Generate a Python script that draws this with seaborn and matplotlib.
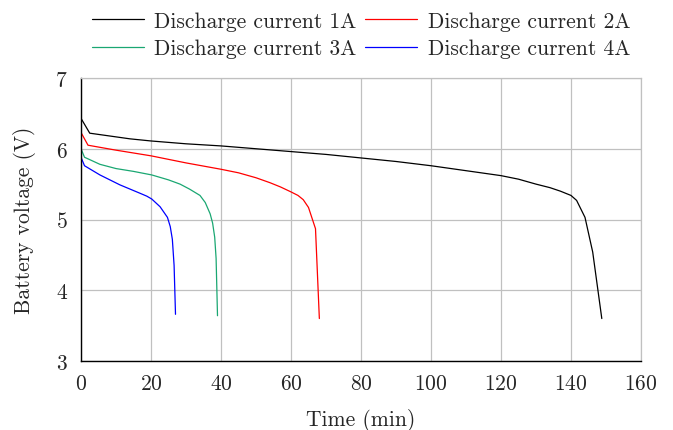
import matplotlib
matplotlib.use("Agg")
import matplotlib.pyplot as plt
import seaborn as sns
import pandas as pd

t1 = [0, 2.5, 14, 20, 30, 40, 50, 60, 70, 80, 90, 100, 110, 120, 125, 130, 134, 137, 140, 141.6, 144, 146.2, 148.8]
v1 = [6.43, 6.22, 6.14, 6.11, 6.07, 6.04, 6.00, 5.96, 5.92, 5.87, 5.82, 5.76, 5.69, 5.62, 5.57, 5.50, 5.45, 5.40, 5.34, 5.27, 5.03, 4.54, 3.60]
t2 = [0, 2, 10, 20, 30, 40, 45, 50, 54, 57, 60, 62, 63.5, 65, 67, 68.1]
v2 = [6.23, 6.05, 5.98, 5.90, 5.80, 5.71, 5.66, 5.59, 5.52, 5.46, 5.39, 5.34, 5.28, 5.17, 4.87, 3.60]
t3 = [0, 1, 5.4, 10, 15, 20.2, 25, 28.3, 31, 34, 35.5, 36.9, 37.6, 38.2, 38.6, 39.0]
v3 = [6.0, 5.88, 5.78, 5.72, 5.68, 5.63, 5.56, 5.50, 5.43, 5.34, 5.24, 5.08, 4.95, 4.75, 4.45, 3.64]
t4 = [0, 1, 5.4, 11.1, 16.9, 18.8, 20.2, 22.6, 24.7, 25.5, 26.1, 26.6, 27.0]
v4 = [5.88, 5.76, 5.63, 5.49, 5.37, 5.33, 5.29, 5.18, 5.03, 4.90, 4.72, 4.35, 3.66]
labels = ["Discharge current 1A", "Discharge current 2A",
          "Discharge current 3A", "Discharge current 4A"]
colors = ["black", "#ff0000", "#1aa772", "#0000ff"]

sns.set_style("white")
plt.rcParams['font.family'] = ['cmr10', 'DejaVu Serif']
plt.rcParams['axes.formatter.use_mathtext'] = True
plt.rcParams['mathtext.fontset'] = 'cm'

FS = 15.5
fig = plt.figure(figsize=(6.73, 4.31), dpi=100)
ax = fig.add_axes([81/673, 1-362/431, (641-81)/673, (362-79)/431])

for t, v, lab, c in zip([t1, t2, t3, t4], [v1, v2, v3, v4], labels, colors):
    df = pd.DataFrame({"t": t, "v": v})
    sns.lineplot(data=df, x="t", y="v", ax=ax, color=c, label=lab, linewidth=0.9, sort=False)

ax.set_xlim(0, 160)
ax.set_ylim(3, 7)
ax.set_xticks(range(0, 161, 20))
ax.set_yticks([3, 4, 5, 6, 7])
ax.grid(True, color="#c0c0c0", linewidth=0.9)
ax.set_axisbelow(True)
for s in ["top", "right"]:
    ax.spines[s].set_color("#c0c0c0")
    ax.spines[s].set_linewidth(0.9)
for s in ["left", "bottom"]:
    ax.spines[s].set_color("black")
    ax.spines[s].set_linewidth(1.0)
ax.tick_params(direction="inout", length=5, width=0.8, color="#a0a0a0",
               labelsize=FS)
ax.tick_params(axis="x", pad=6.5)
ax.tick_params(axis="y", pad=7)
ax.set_xlabel("Time (min)", fontsize=FS, labelpad=11)
ax.set_ylabel("Battery voltage (V)", fontsize=FS, labelpad=14)

h, l = ax.get_legend_handles_labels()
order = [0, 2, 1, 3]
ax.legend([h[i] for i in order], [l[i] for i in order],
          loc="lower center", bbox_to_anchor=(0.5, 1.04), ncol=2, frameon=False,
          fontsize=FS, handlelength=2.4, columnspacing=0.4, handletextpad=0.5,
          labelspacing=0.35, borderaxespad=0)

fig.savefig("out.png", dpi=100)
